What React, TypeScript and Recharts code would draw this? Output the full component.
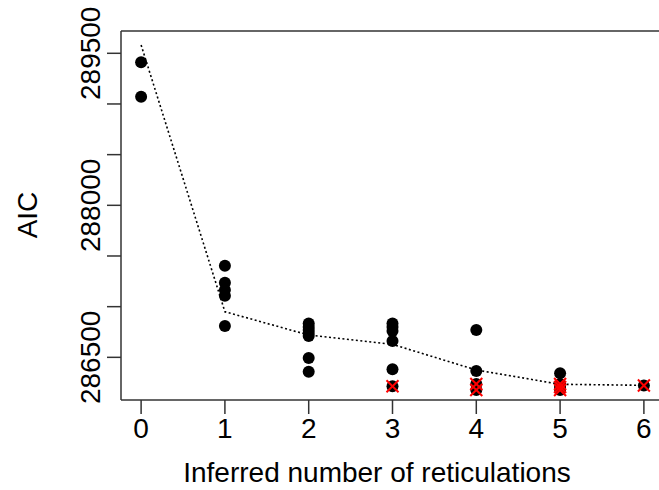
import React from "react";
import {
  ComposedChart,
  Scatter,
  XAxis,
  YAxis,
  ReferenceLine,
} from "recharts";

// number of reticulations on the x axis
const reticulations = [0, 1, 2, 3, 4, 5, 6];

// AIC of every run, grouped by reticulation count
const aicAt0 = [289411, 289072];
const aicAt1 = [287404, 287236, 287164, 287108, 286809];
const aicAt2 = [286834, 286800, 286769, 286740, 286710, 286493, 286358];
const aicAt3 = [286834, 286800, 286760, 286661, 286382, 286215];
const aicAt4 = [286769, 286365, 286237, 286178];
const aicAt5 = [286342, 286237, 286207, 286178];
const aicAt6 = [286222];

// runs flagged in red
const bestAt3 = [286215];
const bestAt4 = [286237, 286178];
const bestAt5 = [286237, 286207, 286178];
const bestAt6 = [286222];

// dotted trend line
const trendAic = [289582, 286950, 286720, 286628, 286375, 286234, 286224];

const yTicks = [286500, 287000, 287500, 288000, 288500, 289000, 289500];
const yTickLabels = [286500, 288000, 289500];

const FONT = "'Liberation Sans', Arial, Helvetica, sans-serif";
const AXIS = "#333";

const toPoints = (groups: number[][], xs: number[]) =>
  groups.flatMap((vals, i) => vals.map((v) => ({ x: xs[i], y: v })));

const dots = toPoints([aicAt0, aicAt1, aicAt2, aicAt3, aicAt4, aicAt5, aicAt6], reticulations);
const crosses = toPoints([bestAt3, bestAt4, bestAt5, bestAt6], [3, 4, 5, 6]);
const trend = reticulations.map((x, i) => ({ x, y: trendAic[i] }));

const Dot = (p: any) => <circle cx={p.cx} cy={p.cy} r={6} fill="#000" />;

const Cross = (p: any) => {
  const s = 6;
  return (
    <g stroke="#ff0000" strokeWidth={2}>
      <line x1={p.cx - s} y1={p.cy - s} x2={p.cx + s} y2={p.cy + s} />
      <line x1={p.cx - s} y1={p.cy + s} x2={p.cx + s} y2={p.cy - s} />
    </g>
  );
};

const NoMark = () => <g />;

const XTick = (p: any) => (
  <text x={p.x} y={437.5} textAnchor="middle" fontSize={28} fontFamily={FONT} fill="#000">
    {p.payload.value}
  </text>
);

const YTick = (p: any) => {
  if (!yTickLabels.includes(p.payload.value)) return <g />;
  return (
    <text
      x={100}
      y={p.y}
      transform={`rotate(-90, 100, ${p.y})`}
      textAnchor="middle"
      fontSize={28}
      fontFamily={FONT}
      fill="#000"
    >
      {p.payload.value}
    </text>
  );
};

const XTitle = () => (
  <text x={377} y={481.5} textAnchor="middle" fontSize={28} fontFamily={FONT} fill="#000">
    Inferred number of reticulations
  </text>
);

const YTitle = () => (
  <text
    x={37}
    y={215}
    transform="rotate(-90, 37, 215)"
    textAnchor="middle"
    fontSize={28}
    fontFamily={FONT}
    fill="#000"
  >
    AIC
  </text>
);

export default function App() {
  return (
    <div
      style={{
        position: "absolute",
        left: 0,
        top: 0,
        width: 659,
        height: 490,
        overflow: "hidden",
        background: "#fff",
      }}
    >
      <ComposedChart width={700} height={490} margin={{ top: 31, right: 36, bottom: 0, left: 0 }}>
        <XAxis
          type="number"
          dataKey="x"
          domain={[-0.24, 6.24]}
          ticks={reticulations}
          allowDataOverflow
          tickSize={14}
          height={90}
          stroke={AXIS}
          strokeWidth={1.5}
          tick={(p: any) => <XTick {...p} />}
          label={<XTitle />}
        />
        <YAxis
          type="number"
          dataKey="y"
          domain={[286079, 289720]}
          ticks={yTicks}
          allowDataOverflow
          tickSize={14}
          width={121}
          stroke={AXIS}
          strokeWidth={1.5}
          tick={(p: any) => <YTick {...p} />}
          label={<YTitle />}
        />
        <ReferenceLine y={289720} stroke={AXIS} strokeWidth={1.5} />
        <Scatter
          data={trend}
          line={{ stroke: "#000", strokeWidth: 1.6, strokeDasharray: "2 2.5" }}
          shape={NoMark}
          isAnimationActive={false}
        />
        <Scatter data={dots} shape={Dot} isAnimationActive={false} />
        <Scatter data={crosses} shape={Cross} isAnimationActive={false} />
      </ComposedChart>
    </div>
  );
}
